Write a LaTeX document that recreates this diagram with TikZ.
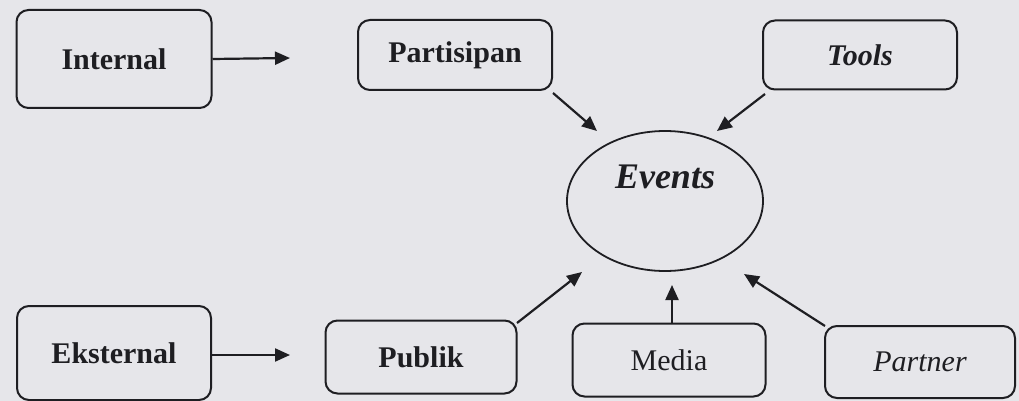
\documentclass[tikz,border=0pt]{standalone}
\usepackage{fontspec}
\setmainfont{Liberation Serif}
\usepackage{tikz}
\usetikzlibrary{arrows.meta,shapes.geometric}
\definecolor{pagebg}{HTML}{E6E6EA}
\definecolor{ink}{HTML}{1E1E22}
\tikzset{
  box/.style={draw=ink, line width=2pt, rounded corners=12pt, inner sep=0pt, text=ink},
  conn/.style={draw=ink, line width=2.2pt, -{Triangle[length=15pt,width=13pt]}},
  lbl/.style={font=\fontsize{30}{34}\selectfont\bfseries},
  rlbl/.style={font=\fontsize{30}{34}\selectfont}
}
\begin{document}
\begin{tikzpicture}[x=1pt,y=-1pt]
\useasboundingbox (0,0) rectangle (1019,401);
\fill[pagebg] (0,0) rectangle (1019,401);
\node[box, lbl, minimum width=195pt, minimum height=98pt] (int) at (114,59) {Internal};
\node[box, lbl, minimum width=194pt, minimum height=70pt] (par) at (455,55) {Partisipan};
\node[box, lbl, minimum width=194pt, minimum height=69pt] (too) at (860,55) {\itshape Tools};
\node[draw=ink, line width=1.8pt, ellipse, minimum width=196pt, minimum height=140pt, inner sep=0pt, text depth=48pt, text=ink, font=\fontsize{36}{40}\selectfont\bfseries\itshape] (ev) at (665,201) {Events};
\node[box, lbl, minimum width=194pt, minimum height=94pt] (eks) at (114,353) {Eksternal};
\node[box, lbl, minimum width=191pt, minimum height=73pt] (pub) at (421,357) {Publik};
\node[box, rlbl, minimum width=193pt, minimum height=73pt] (med) at (669,360) {Media};
\node[box, rlbl, minimum width=190pt, minimum height=72pt] (ptn) at (920,362) {\itshape Partner};
\draw[conn] (int.east) -- (290,58);
\draw[conn] (eks.east |- 0,355) -- (290,355);
\draw[conn] (553,93) -- (597,131);
\draw[conn] (765,94) -- (717,131);
\draw[conn] (517,323) -- (582,272);
\draw[conn] (672,324) -- (672,285);
\draw[conn] (825,326) -- (744,274);
\end{tikzpicture}
\end{document}
